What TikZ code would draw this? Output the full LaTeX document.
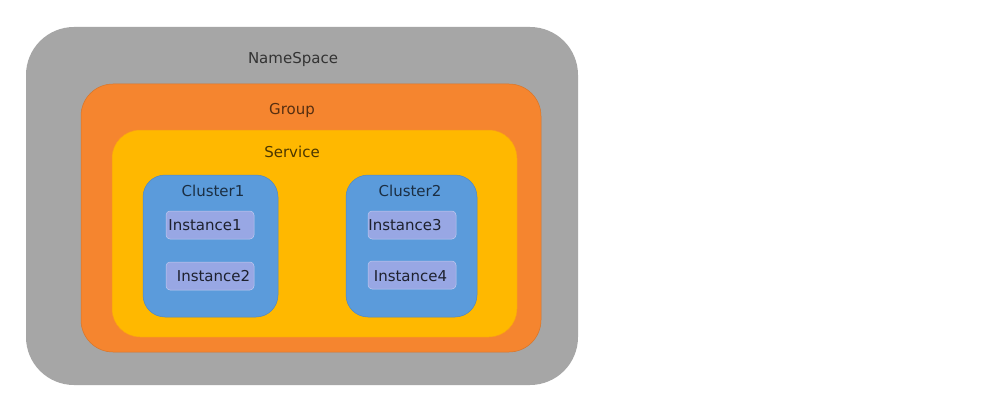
\documentclass[tikz,border=0pt]{standalone}
\usepackage{fontspec}
\setmainfont{DejaVu Sans}
\usetikzlibrary{positioning}

\definecolor{nsgray}{HTML}{A6A6A6}
\definecolor{grouporange}{HTML}{F5852F}
\definecolor{serviceyellow}{HTML}{FFB800}
\definecolor{clusterblue}{HTML}{5B9BDB}
\definecolor{instlilac}{HTML}{98A7E4}

\begin{document}
\begin{tikzpicture}[x=1pt, y=-1pt,
    layer/.style={inner sep=0pt, draw=#1!88!black, line width=0.5pt, fill=#1},
    tag/.style={font=\fontsize{15}{18}\selectfont, inner sep=0pt},
    instbox/.style={layer=instlilac, draw=instlilac!60!white, rounded corners=4pt,
      minimum width=88pt, minimum height=28pt}]
  \useasboundingbox[fill=white] (0,0) rectangle (987,409);

  % Nested scopes
  \node[layer=nsgray, draw=none, rounded corners=48pt,
    minimum width=552pt, minimum height=358pt] (namespace) at (302,206) {};
  \node[layer=grouporange, rounded corners=32pt,
    minimum width=460pt, minimum height=268pt] (group) at (311,218) {};
  \node[layer=serviceyellow, draw=grouporange!60!serviceyellow, rounded corners=28pt,
    minimum width=405pt, minimum height=207pt] (service) at (314.5,233.5) {};

  % Clusters
  \node[layer=clusterblue, rounded corners=22pt,
    minimum width=135pt, minimum height=142pt] (cluster1) at (210.5,246) {};
  \node[layer=clusterblue, rounded corners=22pt,
    minimum width=131pt, minimum height=142pt] (cluster2) at (411.5,246) {};

  % Instances
  \node[instbox] (inst1) at (210,225) {};
  \node[instbox] (inst2) at (210,276) {};
  \node[instbox] (inst3) at (412,225) {};
  \node[instbox] (inst4) at (412,275) {};

  % Labels
  \node[tag, text=black!80] (nslabel) at (293,59) {NameSpace};
  \node[tag, text=grouporange!35!black] (grouplabel) at (292,110) {Group};
  \node[tag, text=serviceyellow!30!black] (servicelabel) at (292,152) {Service};
  \node[tag, text=clusterblue!30!black] (c1label) at (213,191) {Cluster1};
  \node[tag, text=clusterblue!30!black] (c2label) at (410,191) {Cluster2};
  \node[tag, text=instlilac!20!black] (i1label) at (205,225) {Instance1};
  \node[tag, text=instlilac!20!black] (i2label) at (213.5,276) {Instance2};
  \node[tag, text=instlilac!20!black] (i3label) at (405,225) {Instance3};
  \node[tag, text=instlilac!20!black] (i4label) at (410.5,276) {Instance4};
\end{tikzpicture}
\end{document}
